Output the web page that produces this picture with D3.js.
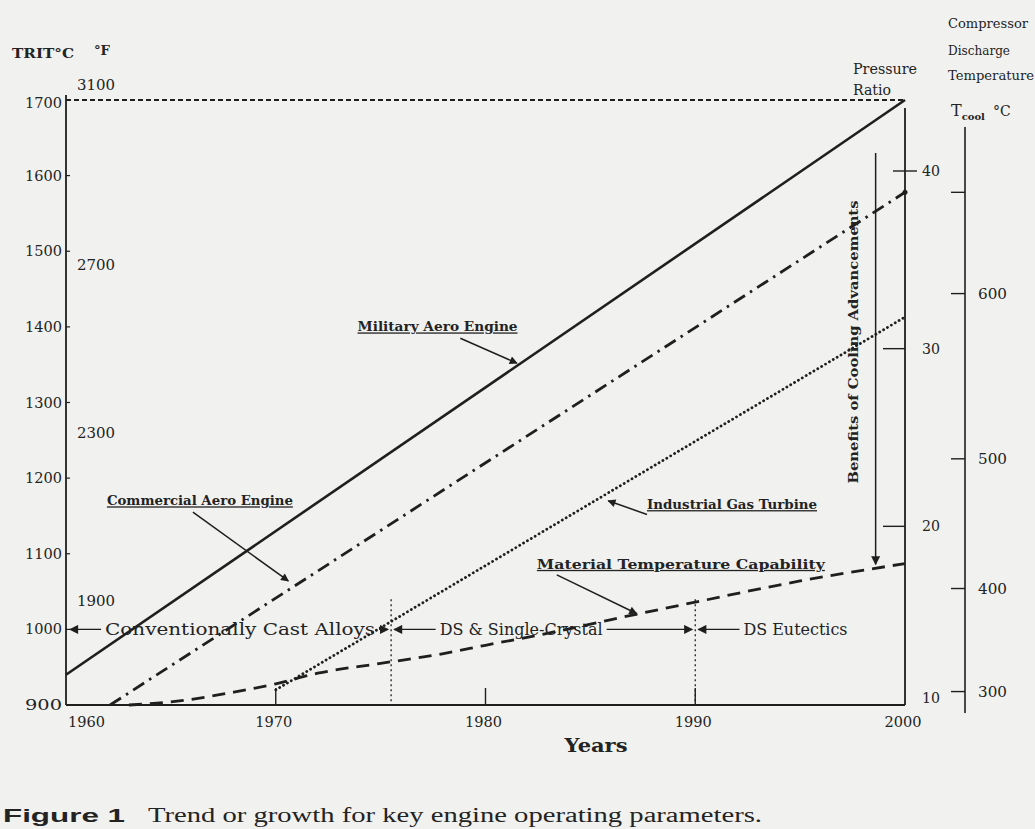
<!DOCTYPE html>
<html>
<head>
<meta charset="utf-8">
<script src="https://cdn.jsdelivr.net/npm/d3@7"></script>
<style>
  body { margin: 0; background: #f1f1ef; }
  svg { display: block; }
  text { font-family: "DejaVu Serif", "Liberation Serif", serif; fill: #232323; }
</style>
</head>
<body>
<div id="chart"></div>
<script>
// values
const yearTicks = [1960, 1970, 1980, 1990, 2000];
const tempTicksC = [900, 1000, 1100, 1200, 1300, 1400, 1500, 1600, 1700];
const tempTicksF = [3100, 2700, 2300, 1900];
const pressureTicks = [10, 20, 30, 40];
// compressor discharge temperature against pressure ratio: [pressure ratio, degC]
const coolTicks = [[10.7, 300], [16.5, 400], [23.8, 500], [33.1, 600], [38.8, 650]];
const coolLabels = ['300', '400', '500', '600', ''];

// [year, TRIT degC]
const militaryAero = [[1960, 940], [2000, 1700]];
const commercialAero = [[1962.1, 900], [2000, 1578]];
const industrialGT = [[1970, 920], [2000, 1413]];
const materialCapability = [[1963, 900], [1965, 904], [1968, 917], [1970, 928], [1972, 942],
  [1975, 955], [1978, 968], [1980, 979], [1983, 995], [1986, 1013], [1990, 1036],
  [1995, 1064], [2000, 1087]];
const topLimit = 1700;

const alloyNames = ['Conventionally Cast Alloys', 'DS & Single-Crystal', 'DS Eutectics'];
const alloyBreaks = [1960, 1975.5, 1990];
const alloyRowTemp = 1000;

const W = 1035, H = 829;
const ink = '#1f1f1f';

const svg = d3.select('#chart').append('svg')
  .attr('width', W).attr('height', H)
  .attr('viewBox', `0 0 ${W} ${H}`);

const x = d3.scaleLinear().domain([1960, 2000]).range([66, 905]);
const y = d3.scaleLinear().domain([900, 1700]).range([705, 100]);
const pr = d3.scaleLinear().domain([10, 40]).range([704, 171]);
const toC = f => (f - 32) * 5 / 9;

// arrowheads
const defs = svg.append('defs');
defs.append('marker').attr('id', 'tip')
  .attr('viewBox', '0 0 10 10').attr('refX', 9).attr('refY', 5)
  .attr('markerWidth', 10).attr('markerHeight', 8).attr('markerUnits', 'userSpaceOnUse')
  .attr('orient', 'auto')
  .append('path').attr('d', 'M0,0L10,5L0,10z').attr('fill', ink);
defs.append('marker').attr('id', 'tipBig')
  .attr('viewBox', '0 0 10 10').attr('refX', 9).attr('refY', 5)
  .attr('markerWidth', 12).attr('markerHeight', 9).attr('markerUnits', 'userSpaceOnUse')
  .attr('orient', 'auto-start-reverse')
  .append('path').attr('d', 'M0,0L10,5L0,10z').attr('fill', ink);

function label(g, px, py, s, size, width, extra = {}) {
  const t = g.append('text').attr('x', px).attr('y', py).text(s)
    .style('font-size', size + 'px');
  if (width) t.attr('textLength', width).attr('lengthAdjust', 'spacingAndGlyphs');
  Object.entries(extra).forEach(([k, v]) => t.style(k, v));
  return t;
}

// ---- axes ----
const axes = svg.append('g');

// left axis (degC)
axes.append('line').attr('x1', x(1960)).attr('x2', x(1960))
  .attr('y1', y(1700) - 5).attr('y2', y(900))
  .attr('stroke', ink).attr('stroke-width', 1.8);
axes.selectAll('.tc').data(tempTicksC).join('line')
  .attr('x1', x(1960)).attr('x2', x(1960) + 4)
  .attr('y1', d => y(d)).attr('y2', d => y(d))
  .attr('stroke', ink).attr('stroke-width', 1.2);
axes.selectAll('.tcl').data(tempTicksC).join('text')
  .attr('x', x(1960) - 4).attr('y', d => y(d) + (d === 1700 ? 8 : 5))
  .attr('text-anchor', 'end').style('font-size', '14px')
  .attr('textLength', 37).attr('lengthAdjust', 'spacingAndGlyphs')
  .text(d => d);
// degF labels sit inside the axis
axes.selectAll('.tf').data(tempTicksF).join('text')
  .attr('x', x(1960) + 11).attr('y', (d, i) => y(toC(d)) + (i === 0 ? -7 : 5))
  .style('font-size', '14px')
  .attr('textLength', 38).attr('lengthAdjust', 'spacingAndGlyphs')
  .text(d => d);

// bottom axis (years)
axes.append('line').attr('x1', x(1960)).attr('x2', x(2000))
  .attr('y1', y(900)).attr('y2', y(900))
  .attr('stroke', ink).attr('stroke-width', 2.2);
axes.selectAll('.yt').data(yearTicks.slice(1, 4)).join('line')
  .attr('x1', d => x(d)).attr('x2', d => x(d))
  .attr('y1', y(900)).attr('y2', y(900) - 17)
  .attr('stroke', ink).attr('stroke-width', 1.4);
axes.selectAll('.yl').data(yearTicks).join('text')
  .attr('x', (d, i) => i === 0 ? x(d) + 2 : x(d) - 2)
  .attr('y', y(900) + 22)
  .attr('text-anchor', (d, i) => i === 0 ? 'start' : 'middle')
  .style('font-size', '14px')
  .attr('textLength', 37).attr('lengthAdjust', 'spacingAndGlyphs')
  .text(d => d);
label(axes, 596, 752, 'Years', 19, 63, { 'font-weight': 'bold', 'text-anchor': 'middle' });

// right axis (pressure ratio), also closes the frame
const prX = x(2000);
axes.append('line').attr('x1', prX).attr('x2', prX)
  .attr('y1', 108).attr('y2', y(900))
  .attr('stroke', ink).attr('stroke-width', 1.8);
axes.selectAll('.pt').data(pressureTicks.slice(1)).join('line')
  .attr('x1', d => prX - (d === 40 ? 12 : 22)).attr('x2', d => prX + (d === 40 ? 12 : 0))
  .attr('y1', d => pr(d)).attr('y2', d => pr(d))
  .attr('stroke', ink).attr('stroke-width', 1.4);
axes.selectAll('.pl').data(pressureTicks).join('text')
  .attr('x', prX + 17).attr('y', d => pr(d) + 5 - (d === 10 ? 6 : 0))
  .style('font-size', '14px')
  .attr('textLength', 18).attr('lengthAdjust', 'spacingAndGlyphs')
  .text(d => d);
label(axes, 853, 74, 'Pressure', 14, 64);
label(axes, 853, 95, 'Ratio', 14, 38);

// compressor discharge temperature axis
const coolX = 965;
axes.append('line').attr('x1', coolX).attr('x2', coolX)
  .attr('y1', 127).attr('y2', 713)
  .attr('stroke', ink).attr('stroke-width', 1.6);
axes.selectAll('.ct').data(coolTicks).join('line')
  .attr('x1', coolX - 14).attr('x2', coolX)
  .attr('y1', d => pr(d[0])).attr('y2', d => pr(d[0]))
  .attr('stroke', ink).attr('stroke-width', 1.4);
axes.selectAll('.cl').data(coolTicks).join('text')
  .attr('x', coolX + 13).attr('y', d => pr(d[0]) + 5)
  .style('font-size', '14px')
  .attr('textLength', 29).attr('lengthAdjust', 'spacingAndGlyphs')
  .text((d, i) => coolLabels[i]);
label(axes, 948, 28, 'Compressor', 12, 80);
label(axes, 948, 55, 'Discharge', 12, 62);
label(axes, 948, 80, 'Temperature', 12, 86);
const tc = label(axes, 951, 116, 'T', 16, null);
tc.append('tspan').attr('dy', 4).style('font-size', '10px').style('font-weight', 'bold').text('cool');
tc.append('tspan').attr('dy', -4).attr('dx', 8).style('font-size', '14px').text('°C');

// top-left title
label(axes, 12, 58, 'TRIT°C', 13, 62, { 'font-weight': 'bold' });
label(axes, 94, 55, '°F', 13, 16, { 'font-weight': 'bold' });

// ---- series ----
const line = d3.line().x(d => x(d[0])).y(d => y(d[1]));
const plot = svg.append('g').attr('fill', 'none').attr('stroke', ink);

plot.append('line')
  .attr('x1', x(1960)).attr('x2', x(2000))
  .attr('y1', y(topLimit)).attr('y2', y(topLimit))
  .attr('stroke-width', 1.8).attr('stroke-dasharray', '5,3');
plot.append('path').datum(militaryAero).attr('d', line)
  .attr('stroke-width', 2.6);
plot.append('path').datum(commercialAero).attr('d', line)
  .attr('stroke-width', 2.8).attr('stroke-dasharray', '13,6,2.5,6');
plot.append('path').datum(industrialGT).attr('d', line)
  .attr('stroke-width', 2.8).attr('stroke-linecap', 'round')
  .attr('stroke-dasharray', '0.1,4.4');
plot.append('path').datum(materialCapability).attr('d', line.curve(d3.curveMonotoneX))
  .attr('stroke-width', 2.8).attr('stroke-dasharray', '13,8');
svg.append('circle').attr('cx', x(2000)).attr('cy', y(commercialAero[1][1]))
  .attr('r', 2.5).attr('fill', ink);

// era dividers
plot.selectAll('.div').data(alloyBreaks.slice(1)).join('line')
  .attr('x1', d => x(d)).attr('x2', d => x(d))
  .attr('y1', y(1040)).attr('y2', y(900))
  .attr('stroke-width', 1.3).attr('stroke-dasharray', '2,3');

// ---- alloy eras row ----
const eraG = svg.append('g');
const rowY = y(alloyRowTemp);
const eraText = [{ year: 1968.3, mid: true }, { year: 1981.7, mid: true }, { year: 1992.3, mid: false }];
alloyNames.forEach((name, i) => {
  const x0 = x(alloyBreaks[i]) + (i === 0 ? 4 : 3);
  const x1 = i < 2 ? x(alloyBreaks[i + 1]) - 3 : null;
  const t = label(eraG, x(eraText[i].year), rowY + 6, name, 17, [270, 163, 104][i],
    { 'text-anchor': eraText[i].mid ? 'middle' : 'start' });
  const bb = t.node().getBBox();
  eraG.append('line').attr('x1', bb.x - 4).attr('x2', x0)
    .attr('y1', rowY).attr('y2', rowY)
    .attr('stroke', ink).attr('stroke-width', 1.3).attr('marker-end', 'url(#tipBig)');
  if (x1 !== null) {
    eraG.append('line').attr('x1', bb.x + bb.width + 4).attr('x2', x1)
      .attr('y1', rowY).attr('y2', rowY)
      .attr('stroke', ink).attr('stroke-width', 1.3).attr('marker-end', 'url(#tipBig)');
  }
});

// ---- callouts ----
const notes = [
  { text: 'Military Aero Engine', at: [1973.9, 1394], from: [1978.8, 1385], to: [1981.5, 1352], w: 160 },
  { text: 'Commercial Aero Engine', at: [1961.95, 1164], from: [1966.05, 1155], to: [1970.6, 1064], w: 186 },
  { text: 'Industrial Gas Turbine', at: [1987.7, 1159], from: [1987.7, 1152], to: [1985.85, 1170], w: 170 },
  { text: 'Material Temperature Capability', at: [1982.45, 1080], from: [1983.4, 1072], to: [1987.2, 1021], w: 288 }
];
const noteG = svg.append('g');
notes.forEach(n => {
  label(noteG, x(n.at[0]), y(n.at[1]), n.text, 13, n.w,
    { 'font-weight': 'bold', 'text-decoration': 'underline' });
  noteG.append('line')
    .attr('x1', x(n.from[0])).attr('y1', y(n.from[1]))
    .attr('x2', x(n.to[0])).attr('y2', y(n.to[1]))
    .attr('stroke', ink).attr('stroke-width', 1.5).attr('marker-end', 'url(#tip)');
});

// benefits of cooling arrow
noteG.append('line')
  .attr('x1', x(1998.6)).attr('x2', x(1998.6))
  .attr('y1', y(1630)).attr('y2', y(1086))
  .attr('stroke', ink).attr('stroke-width', 1.5).attr('marker-end', 'url(#tipBig)');
label(noteG, 0, 0, 'Benefits of Cooling Advancements', 13, 283,
  { 'font-weight': 'bold', 'text-anchor': 'middle' })
  .attr('x', null).attr('y', null)
  .attr('transform', `translate(${x(1997.5) + 5},${y(1380)})rotate(-90)`);

// ---- caption ----
const cap = svg.append('g');
label(cap, 3, 822, 'Figure 1', 19, 122,
  { 'font-family': '"Liberation Sans", Arial, sans-serif', 'font-weight': 'bold' });
label(cap, 148, 822, 'Trend or growth for key engine operating parameters.', 20, 614,
  { 'font-family': '"Liberation Serif", "Times New Roman", serif' });
</script>
</body>
</html>
